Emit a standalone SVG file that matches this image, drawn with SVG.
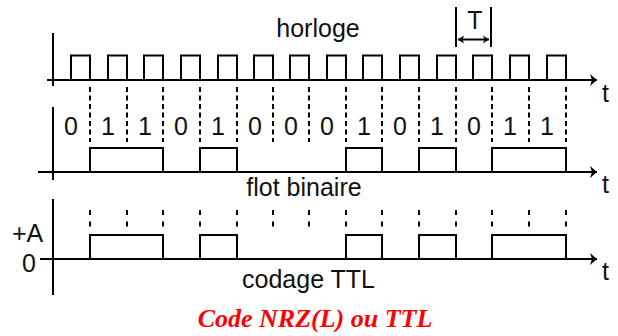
<svg xmlns="http://www.w3.org/2000/svg" width="618" height="336" viewBox="0 0 618 336">
<style>
.ln{fill:none;stroke:#000;stroke-width:2}
.ax{fill:none;stroke:#000;stroke-width:2;marker-end:url(#ah)}
.d1{fill:none;stroke:#000;stroke-width:2;stroke-dasharray:5 3.5}
.d2{fill:none;stroke:#000;stroke-width:2;stroke-dasharray:5 6.5}
.tx{font-family:"Liberation Sans",Arial,sans-serif;font-size:25px;fill:#111;text-anchor:middle}
.tt{font-family:"Liberation Sans",Arial,sans-serif;font-size:25px;fill:#111}
.ti{font-family:"Liberation Serif","Times New Roman",serif;font-size:26px;font-weight:bold;font-style:italic;fill:#f00;text-anchor:middle}
</style>
<defs>
<marker id="ah" markerWidth="10" markerHeight="14" refX="8" refY="7" orient="auto" markerUnits="userSpaceOnUse">
<path d="M8,7 L1,1 L3,7 L1,13 Z" fill="#000"/>
</marker>
<marker id="th" markerWidth="8" markerHeight="10" refX="7" refY="5" orient="auto-start-reverse" markerUnits="userSpaceOnUse">
<path d="M7,5 L1,1 L2.5,5 L1,9 Z" fill="#000"/>
</marker>
</defs>

<g id="horloge">
<path class="ln" d="M53,33 V86"/>
<path class="ax" d="M47,80 H597"/>
<path class="ln" d="M71,80 V55.5 H90 V80 M108,80 V55.5 H127 V80 M144,80 V55.5 H163 V80 M181,80 V55.5 H200 V80 M218,80 V55.5 H237 V80 M254,80 V55.5 H273 V80 M290,80 V55.5 H309 V80 M327,80 V55.5 H346 V80 M363,80 V55.5 H382 V80 M400,80 V55.5 H419 V80 M437,80 V55.5 H456 V80 M473,80 V55.5 H492 V80 M510,80 V55.5 H529 V80 M547,80 V55.5 H566 V80"/>
<text class="tx" x="318" y="37">horloge</text>
<text class="tt" x="602" y="101.5">t</text>
</g>

<g id="periode">
<path class="ln" d="M456,7 V47 M491,7 V47"/>
<path class="ln" d="M458,39.5 H489" marker-start="url(#th)" marker-end="url(#th)"/>
<text class="tx" x="475" y="28.5">T</text>
</g>

<g id="tirets">
<path class="d1" d="M90,87 V142 M127,87 V142 M163,87 V142 M200,87 V142 M237,87 V142 M273,87 V142 M309,87 V142 M346,87 V142 M382,87 V142 M419,87 V142 M456,87 V142 M492,87 V142 M529,87 V142 M566,87 V142"/>
<path class="d2" d="M90,210 V228 M127,210 V228 M163,210 V228 M200,210 V228 M237,210 V228 M273,210 V228 M309,210 V228 M346,210 V228 M382,210 V228 M419,210 V228 M456,210 V228 M492,210 V228 M529,210 V228 M566,210 V228"/>
</g>

<g id="flot">
<path class="ln" d="M53,107 V180"/>
<path class="ax" d="M38,172 H597"/>
<path class="ln" d="M90,172 V148 H163 V172 M200,172 V148 H237 V172 M346,172 V148 H382 V172 M419,172 V148 H456 V172 M492,172 V148 H566 V172"/>
<g class="tx">
<text x="71" y="135">0</text>
<text x="108" y="135">1</text>
<text x="145" y="135">1</text>
<text x="181" y="135">0</text>
<text x="218" y="135">1</text>
<text x="255" y="135">0</text>
<text x="291" y="135">0</text>
<text x="327" y="135">0</text>
<text x="364" y="135">1</text>
<text x="400" y="135">0</text>
<text x="437" y="135">1</text>
<text x="474" y="135">0</text>
<text x="510" y="135">1</text>
<text x="547" y="135">1</text>
</g>
<text class="tx" x="304" y="196">flot binaire</text>
<text class="tt" x="602" y="193">t</text>
</g>

<g id="ttl">
<path class="ln" d="M53,199 V295"/>
<path class="ax" d="M40,259 H597"/>
<path class="ln" d="M90,259 V235 H163 V259 M200,259 V235 H237 V259 M346,259 V235 H382 V259 M419,259 V235 H456 V259 M492,259 V235 H566 V259"/>
<text class="tt" x="12" y="242">+A</text>
<text class="tt" x="22" y="271.5">0</text>
<text class="tx" x="308.5" y="288">codage TTL</text>
<text class="tt" x="602" y="280">t</text>
</g>

<text class="ti" x="315" y="327">Code NRZ(L) ou TTL</text>
</svg>
